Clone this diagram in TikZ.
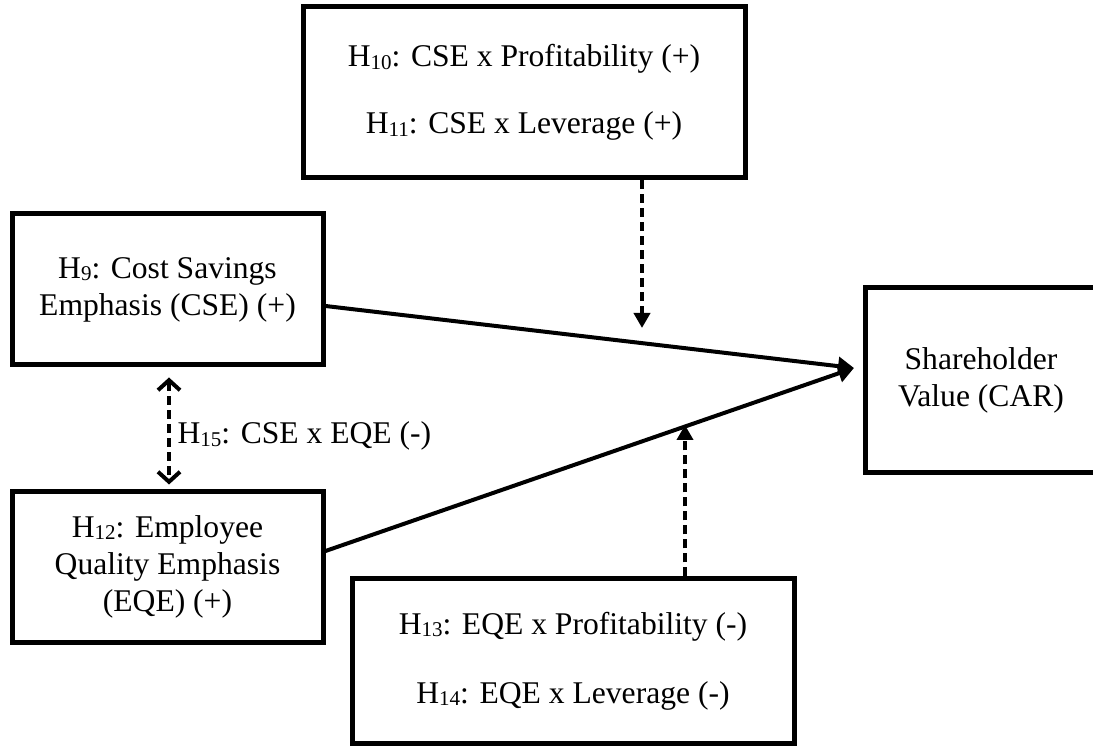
\documentclass[tikz,border=0pt]{standalone}
\usepackage{fontspec}
\setmainfont{Liberation Serif}
\usetikzlibrary{positioning,arrows.meta,calc}
\newcommand{\hsub}[1]{{\fontsize{10.5}{10}\selectfont\raisebox{-1.2pt}{#1}}}

\begin{document}
\begin{tikzpicture}[
          x=0.5pt, y=-0.5pt,
          font=\fontsize{15.8}{18.5}\selectfont,
          box/.style={draw, line width=2.5pt, inner sep=0pt, align=center},
          link/.style={line width=2pt, -{Triangle[length=8pt,width=9pt]}},
          modr/.style={line width=2pt, dash pattern=on 4.5pt off 2.5pt, -{Triangle[length=7.5pt,width=8pt]}},
          corr/.style={line width=2pt, dash pattern=on 4.5pt off 2.5pt, {Straight Barb[length=5pt,width=11pt]}-{Straight Barb[length=5pt,width=11pt]}}
      ]
        \clip (0,0) rectangle (1093,748);
        \node[box, minimum width=221pt, minimum height=85.5pt] (modtop) at (524,92.5) {H\hsub{10}: CSE x Profitability (+)\\[15pt]H\hsub{11}: CSE x Leverage (+)};
        \node[box, minimum width=155.5pt, minimum height=75.5pt] (cse) at (167.5,289.5) {H\hsub{9}: Cost Savings\\Emphasis (CSE) (+)};
        \node[box, minimum width=155.5pt, minimum height=75pt] (eqe) at (167.5,567) {H\hsub{12}: Employee\\Quality Emphasis\\(EQE) (+)};
        \node[box, minimum width=221pt, minimum height=82pt] (modbot) at (573,661) {H\hsub{13}: EQE x Profitability (-)\\[16pt]H\hsub{14}: EQE x Leverage (-)};
        \node[box, minimum width=116pt, minimum height=92.5pt] (car) at (981,380.5) {Shareholder\\Value (CAR)};
        \coordinate (meet) at (854,368);
        \coordinate (mt) at (642,328);
        \coordinate (mb) at (685,425);
        \draw[link] ($(cse.east)+(0,16.5)$) -- (meet);
        \draw[link] ($(eqe.east)+(0,-16)$) -- (meet);
        \draw[modr] (modtop.south -| mt) -- (mt);
        \draw[modr] (modbot.north -| mb) -- (mb);
        \draw[corr] ($(cse.south)+(1.5,10)$) -- ($(eqe.north)+(1.5,-5)$) node[pos=0.55, right] (h15) {H\hsub{15}: CSE x EQE (-)};
      \end{tikzpicture}
\end{document}
